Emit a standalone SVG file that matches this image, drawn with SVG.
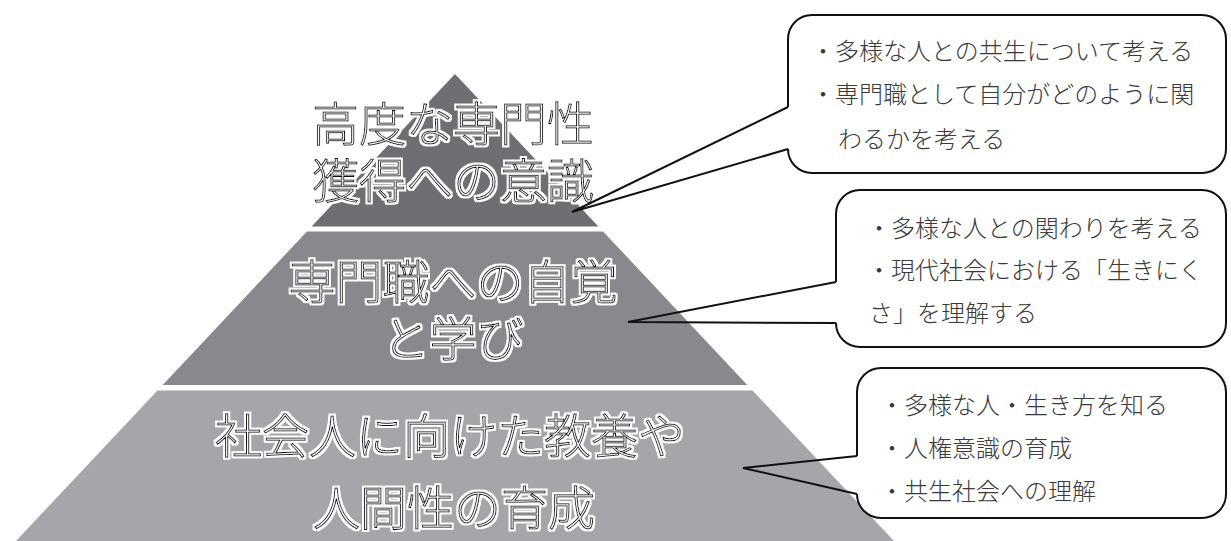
<svg xmlns="http://www.w3.org/2000/svg" width="1231" height="541" viewBox="0 0 1231 541">
<defs>
<filter id="halo" x="-5%" y="-20%" width="110%" height="140%">
<feMorphology in="SourceAlpha" operator="dilate" radius="1.6" result="grow"/>
<feFlood flood-color="#ffffff"/>
<feComposite operator="in" in2="grow" result="white"/>
<feMerge><feMergeNode in="white"/><feMergeNode in="SourceGraphic"/></feMerge>
</filter>
</defs>
<style>
.tier-label{font-family:"Noto Sans CJK JP","Noto Sans CJK SC",sans-serif;font-size:47px;font-weight:300;text-anchor:middle;dominant-baseline:central;fill:#fff;stroke:#111;stroke-width:1;filter:url(#halo)}
.bubble{fill:#fff;stroke:#111;stroke-width:2}
.ptr{fill:none;stroke:#111;stroke-width:2;stroke-linejoin:miter}
.note{font-family:"Noto Sans CJK JP","Noto Sans CJK SC",sans-serif;font-size:24px;font-weight:300;fill:#3a3a3a;dominant-baseline:central}
</style>
<rect width="1231" height="541" fill="#fff"/>
<g id="tier-top">
<polygon points="455,74 598.4,226.5 311.6,226.5" fill="#6e6f72"/>
<text class="tier-label"><tspan x="453" y="120">高度な専門性</tspan><tspan x="453" y="177">獲得への意識</tspan></text>
</g>
<g id="tier-middle">
<polygon points="306.9,231.5 603.1,231.5 747.3,385 162.7,385" fill="#88898c"/>
<text class="tier-label"><tspan x="453" y="278">専門職への自覚</tspan><tspan x="453" y="335">と学び</tspan></text>
</g>
<g id="tier-bottom">
<polygon points="157.5,390.5 752.5,390.5 894,541 16,541" fill="#a5a6a9"/>
<text class="tier-label"><tspan x="450" y="432">社会人に向けた教養や</tspan><tspan x="454" y="504">人間性の育成</tspan></text>
</g>
<g id="callout-1">
<path class="bubble" d="M788,107 V39 A24,24 0 0 1 812,15 H1202 A24,24 0 0 1 1226,39 V149 A24,24 0 0 1 1202,173 H812 A24,24 0 0 1 788,149"/>
<text class="note" x="811" y="49">・多様な人との共生について考える</text>
<text class="note" x="811" y="92">・専門職として自分がどのように関</text>
<text class="note" x="838" y="137">わるかを考える</text>
</g>
<g id="callout-2">
<path class="bubble" d="M836,282 V214 A24,24 0 0 1 860,190 H1202 A24,24 0 0 1 1226,214 V323 A24,24 0 0 1 1202,347 H860 A24,24 0 0 1 836,323"/>
<text class="note" x="867" y="226">・多様な人との関わりを考える</text>
<text class="note" x="867" y="268">・現代社会における「生きにく</text>
<text class="note" x="869" y="311">さ」を理解する</text>
</g>
<g id="callout-3">
<path class="bubble" d="M857,456 V392 A24,24 0 0 1 881,368 H1202 A24,24 0 0 1 1226,392 V494 A24,24 0 0 1 1202,518 H881 A24,24 0 0 1 857,494"/>
<text class="note" x="880" y="403">・多様な人・生き方を知る</text>
<text class="note" x="880" y="446">・人権意識の育成</text>
<text class="note" x="880" y="489">・共生社会への理解</text>
</g>
<g id="connectors">
<polyline class="ptr" points="788,149 572,212 788,107"/>
<polyline class="ptr" points="836,323 628,322 836,282"/>
<polyline class="ptr" points="857,494 743,468 857,456"/>
</g>
</svg>
